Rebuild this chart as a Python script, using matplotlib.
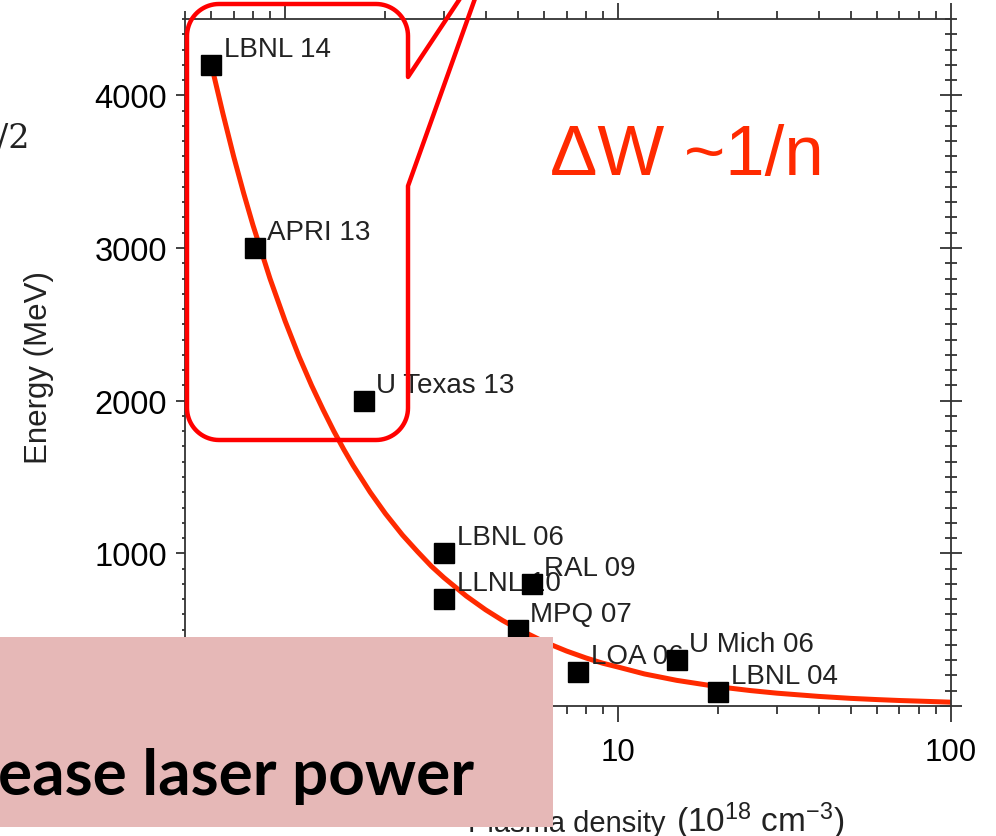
import numpy as np
import matplotlib
matplotlib.use("Agg")
import matplotlib.pyplot as plt
from matplotlib.path import Path
from matplotlib.patches import PathPatch, Rectangle
from matplotlib.ticker import MultipleLocator, LogLocator, NullFormatter, FuncFormatter
from matplotlib.transforms import Affine2D

W, H = 996, 837

experiments = ["LBNL 14", "APRI 13", "U Texas 13", "LBNL 06", "LLNL 10",
               "RAL 09", "MPQ 07", "LOA 06", "U Mich 06", "LBNL 04"]
density = [0.6, 0.81, 1.72, 3.0, 3.0, 5.5, 5.0, 7.6, 15.0, 20.0]   # 1e18 cm^-3
energy = [4200, 3000, 2000, 1000, 700, 800, 500, 220, 300, 90]      # MeV

# red trend curve (~1/n)
fit_density = [0.6, 0.65, 0.7, 0.75, 0.8, 0.9, 1.0, 1.1, 1.2, 1.3, 1.4, 1.5, 1.6, 1.8,
               2.0, 2.25, 2.5, 2.75, 3.0, 3.5, 4.0, 4.5, 5.0, 6.0, 7.0, 8.0, 9.0, 10,
               12, 15, 20, 25, 30, 40, 50, 60, 70, 80, 100]
fit_energy = [4200, 3880, 3600, 3360, 3150, 2800, 2520, 2290, 2100, 1940, 1800, 1680,
              1575, 1400, 1260, 1120, 1010, 915, 840, 720, 630, 560, 505, 420, 360,
              315, 280, 255, 210, 168, 126, 101, 84, 63, 50, 42, 36, 32, 25]

RED = "#ff2a00"

plt.rcParams['font.family'] = ['Liberation Sans', 'DejaVu Sans']
plt.rcParams['mathtext.fontset'] = 'custom'
plt.rcParams['mathtext.rm'] = 'Liberation Sans'
plt.rcParams['mathtext.default'] = 'regular'

fig = plt.figure(figsize=(W / 100, H / 100), dpi=100)
# pixel coordinates, y pointing down
px = Affine2D().scale(1 / W, -1 / H).translate(0, 1) + fig.transFigure


def fx(x):
    return x / W


def fy(y):
    return 1 - y / H


ax = fig.add_axes([fx(185), fy(707), (951 - 185) / W, (707 - 20) / H])
ax.set_xscale('log')
ax.set_xlim(0.5, 100)
ax.set_ylim(0, 4500)

ax.plot(fit_density, fit_energy, color=RED, lw=3.6, zorder=2, solid_capstyle='butt',
        solid_joinstyle='round')
ax.plot(density, energy, 's', color='black', ms=14.5, ls='none', zorder=4)
for name, x, y in zip(experiments, density, energy):
    ax.annotate(name, (x, y), xytext=(9, 6.5), textcoords='offset points',
                fontsize=20, color='#222222', ha='left', va='baseline', zorder=3)

# axes styling
for sp in ax.spines.values():
    sp.set_color('#333333')
    sp.set_linewidth(1.3)

ax.xaxis.set_major_locator(LogLocator(base=10, numticks=10))
ax.xaxis.set_minor_locator(LogLocator(base=10, subs=np.arange(2, 10), numticks=20))
ax.xaxis.set_minor_formatter(NullFormatter())
ax.xaxis.set_major_formatter(FuncFormatter(lambda v, p: f"{v:g}"))
ax.tick_params(axis='x', which='both', top=True, bottom=True, direction='out',
               labeltop=False, width=1.3, color='#333333', labelsize=22.5, pad=11)
ax.tick_params(axis='x', which='major', length=11.5)
ax.tick_params(axis='x', which='minor', length=5.8)

ax.yaxis.set_major_locator(MultipleLocator(1000))
ax.yaxis.set_minor_locator(MultipleLocator(100))
ax.tick_params(axis='y', which='both', left=True, right=False, direction='out',
               width=1.3, color='#333333', labelsize=23.5, pad=6.5)
ax.tick_params(axis='y', which='major', length=6.5)
ax.tick_params(axis='y', which='minor', length=2.5)

ax2 = ax.twinx()
ax2.set_ylim(0, 4500)
ax2.yaxis.set_major_locator(MultipleLocator(1000))
ax2.yaxis.set_minor_locator(MultipleLocator(100))
ax2.tick_params(axis='y', which='both', direction='inout', labelright=False,
                width=1.3, color='#333333')
ax2.tick_params(axis='y', which='major', length=16.5)
ax2.tick_params(axis='y', which='minor', length=8.6)
for sp in ax2.spines.values():
    sp.set_visible(False)

# texts
fig.text(fx(550), fy(175), "\u0394W ~1/n", fontsize=51, color=RED, va='baseline')
fig.text(fx(-3), fy(148), "/2", family=['DejaVu Serif'],
         fontsize=24, color='#222222', va='baseline')
fig.text(fx(39), fy(368), "Energy (MeV)", rotation=90, fontsize=22.5,
         color='#222222', ha='center', va='center')
fig.text(fx(468), fy(832), "Plasma density", fontsize=21, color='#222222', va='baseline')
fig.text(fx(676), fy(832), r"(10$^{18}$ cm$^{-3}$)", fontsize=24, color='#222222',
         va='baseline')

# callout around the recent results
L, R, T, B, r = 187, 408, 5, 441, 32


def arc(cx, cy, a0, a1):
    t = np.radians(np.linspace(a0, a1, 20))
    return list(zip(cx + r * np.cos(t), cy + r * np.sin(t)))


pts = []
pts += arc(L + r, T + r, 180, 270)
pts += arc(R - r, T + r, 270, 360)
pts += [(R, 78), (473, -20), (482, -20), (R, 187)]
pts += arc(R - r, B - r, 0, 90)
pts += arc(L + r, B - r, 90, 180)
pts.append(pts[0])
callout = PathPatch(Path(pts), transform=px, fill=False, ec='#ff0000', lw=3.2,
                    joinstyle='round', zorder=5)
fig.add_artist(callout)

# pink banner at the bottom left
fig.add_artist(Rectangle((0, 638), 553, 190, transform=px, fc='#e6b8b7',
                         ec='none', zorder=6))
fig.text(fx(-2), fy(795), "ease laser power", family=['Lato', 'DejaVu Sans'],
         weight='bold', fontsize=46, color='black', va='baseline', zorder=7)

fig.savefig("out.png", dpi=100)
